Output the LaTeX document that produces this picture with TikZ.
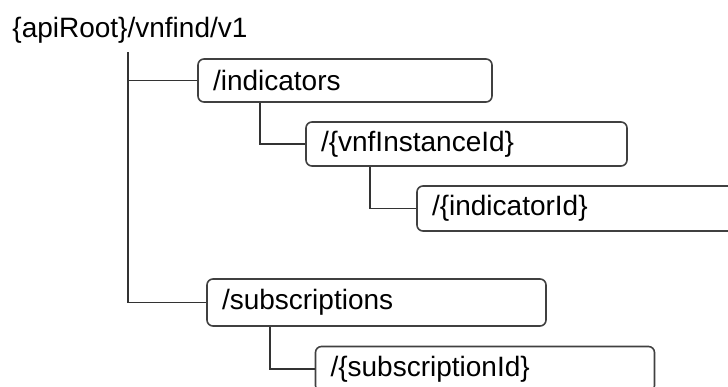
\documentclass[tikz,border=0pt]{standalone}
\usepackage{fontspec}
\setmainfont{Liberation Sans}
\begin{document}
\begin{tikzpicture}[x=0.5pt,y=-0.5pt,
  box/.style={draw=black!75, line width=0.8pt, rounded corners=3pt, rectangle,
    inner xsep=7.5pt, inner ysep=0pt, align=left, font=\fontsize{14}{16}\selectfont, text=black},
  conn/.style={draw=black!80, line width=0.8pt}]
\useasboundingbox (0,0) rectangle (728,386);
\begin{scope}
\clip (0,0) rectangle (728,386);
\node[anchor=west, inner sep=0pt, font=\fontsize{14}{16}\selectfont] (root) at (12,30) {\{apiRoot\}/vnfind/v1};
\node[box, text width=132pt, minimum height=21.5pt] (ind) at (345,80.5) {/indicators};
\node[box, text width=145.5pt, minimum height=22pt] (vnf) at (466.5,144) {/\{vnfInstanceId\}};
\node[box, text width=149pt, minimum height=22.5pt] (indid) at (581,208.5) {/\{indicatorId\}};
\node[box, text width=154.5pt, minimum height=23.5pt] (sub) at (376.5,302.5) {/subscriptions};
\node[box, text width=154.5pt, minimum height=22.5pt] (subid) at (485,369) {/\{subscriptionId\}};
\coordinate (trunk) at (128,52);
\draw[conn] (trunk) |- (ind.west);
\draw[conn] (trunk) |- (sub.west);
\draw[conn] ([xshift=31.5pt]ind.south west) |- (vnf.west);
\draw[conn] ([xshift=32.5pt]vnf.south west) |- (indid.west);
\draw[conn] ([xshift=32pt]sub.south west) |- (subid.west);
\end{scope}
\end{tikzpicture}
\end{document}
